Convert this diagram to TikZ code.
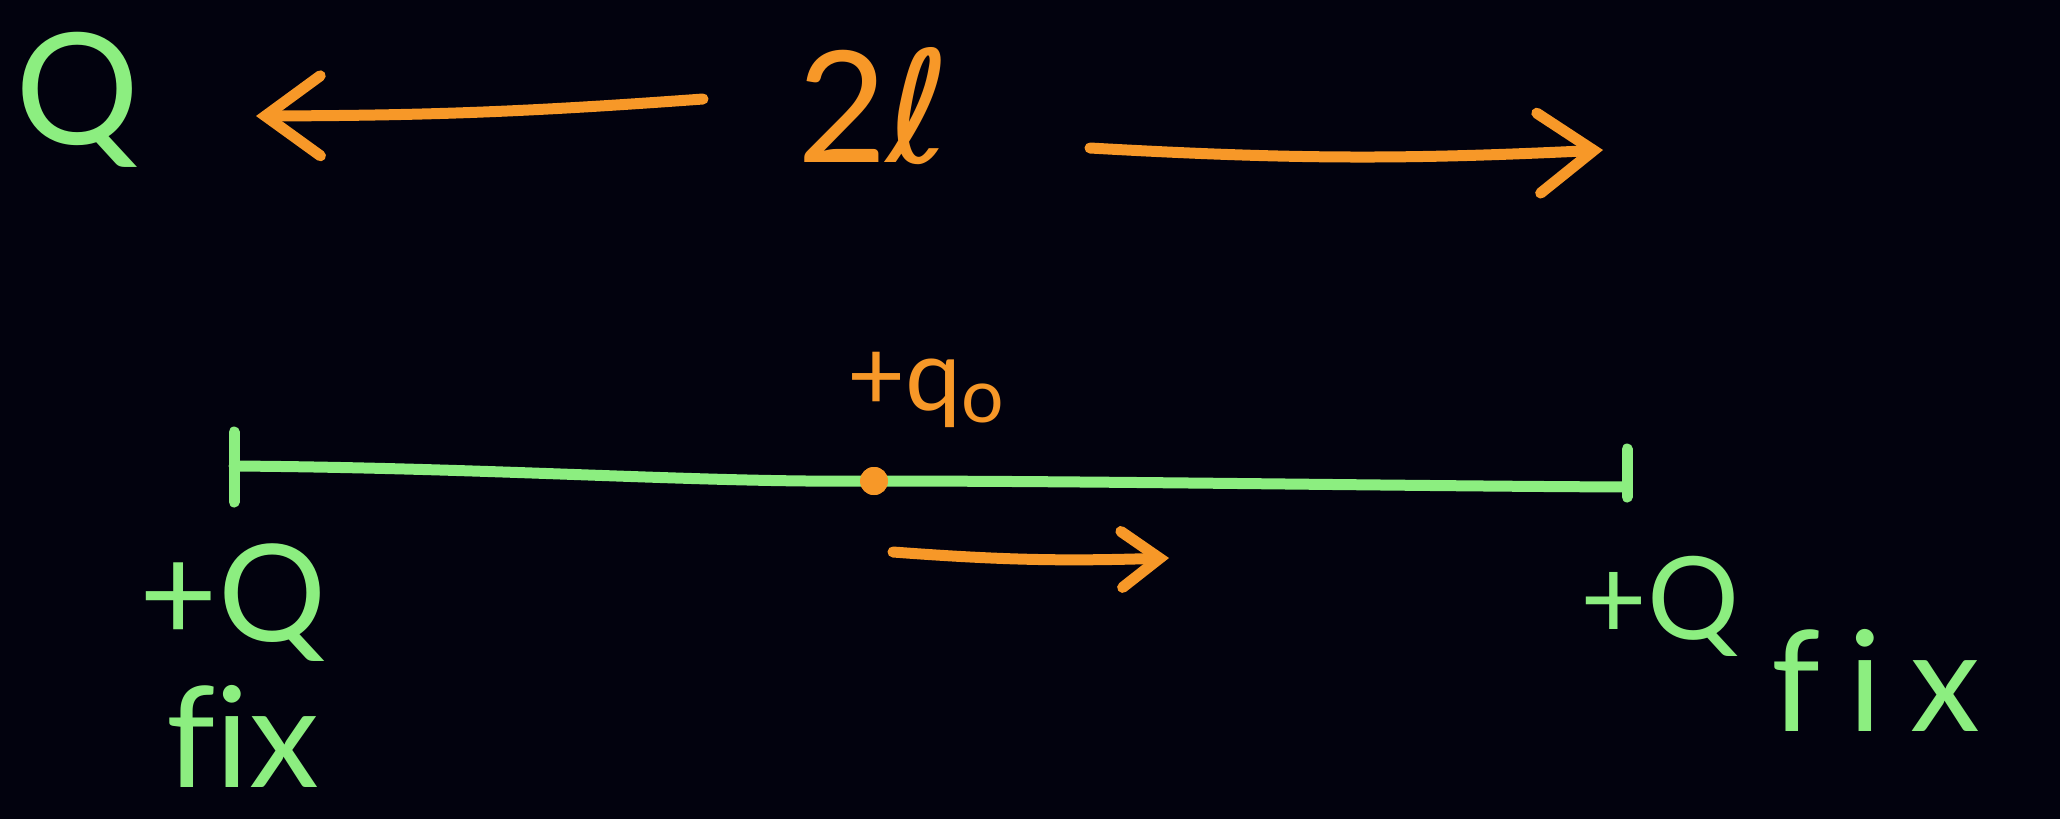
\documentclass[tikz,border=0pt]{standalone}
\usepackage{fontspec}
\setmainfont[Ligatures=NoCommon]{Lato}
\newfontfamily\dvs{DejaVu Sans}
\usetikzlibrary{arrows.meta}
\definecolor{chalkgreen}{RGB}{140,238,128}
\definecolor{chalkorange}{RGB}{247,152,40}
\definecolor{board}{RGB}{2,2,14}
\tikzset{
  gtext/.style={text=chalkgreen, inner sep=0pt},
  otext/.style={text=chalkorange, inner sep=0pt},
  gline/.style={draw=chalkgreen, line width=11pt, line cap=round, line join=round},
  oline/.style={draw=chalkorange, line width=11pt, line cap=round, line join=round},
  bigtip/.style={-{Straight Barb[length=55pt,width=80pt,line cap=round]}},
  smalltip/.style={-{Straight Barb[length=38pt,width=56pt,line cap=round]}},
}
\begin{document}
\begin{tikzpicture}[x=1pt,y=-1pt]
\fill[board] (0,0) rectangle (2060,819);
\useasboundingbox (0,0) rectangle (2060,819);

% top dimension
\node[gtext, font=\fontsize{155}{155}\selectfont] (Qtop) at (78,100) {Q};
\node[otext, font=\fontsize{155}{155}\selectfont] (twoL) at (874,106) {2{\dvs ℓ}};
\coordinate (la1) at (703,99);
\coordinate (la2) at (256,116);
\coordinate (ra1) at (1090,148);
\coordinate (ra2) at (1603,150);
\draw[oline, bigtip] (la1) to[bend left=2] (la2);
\draw[oline, bigtip] (ra1) to[bend right=3] (ra2);

% rod
\coordinate (lt) at (234,466);
\coordinate (rt) at (1627,487);
\node[circle, fill=chalkorange, inner sep=0pt, minimum size=28pt] (q0) at (874,481) {};
\draw[gline] (lt) .. controls (500,468) and (700,483) .. (q0.center)
             .. controls (1100,481) and (1400,486) .. (rt);
\draw[gline] ([yshift=34pt]lt) -- ([yshift=-36pt]lt);
\draw[gline] ([yshift=38pt]rt) -- ([yshift=-10pt]rt);
\fill[chalkorange] (q0.center) circle (14pt);

\node[otext, font=\fontsize{100}{100}\selectfont] (q0lab) at (926,390)
  {+q\raisebox{-0.12em}{\fontsize{75}{75}\selectfont o}};

\coordinate (ba1) at (893,552);
\coordinate (ba2) at (1169,558);
\draw[oline, smalltip] (ba1) to[bend right=3] (ba2);

% labels
\node[gtext, font=\fontsize{135}{135}\selectfont] (QL) at (233,603) {+Q};
\node[gtext, font=\fontsize{140}{140}\selectfont] (fixL) at (243,736) {fix};
\node[gtext, font=\fontsize{115}{115}\selectfont] (QR) at (1660,606) {+Q};
\node[gtext, font=\fontsize{140}{140}\selectfont\addfontfeatures{LetterSpace=20}] (fixR) at (1876,680) {fix};
\end{tikzpicture}
\end{document}
